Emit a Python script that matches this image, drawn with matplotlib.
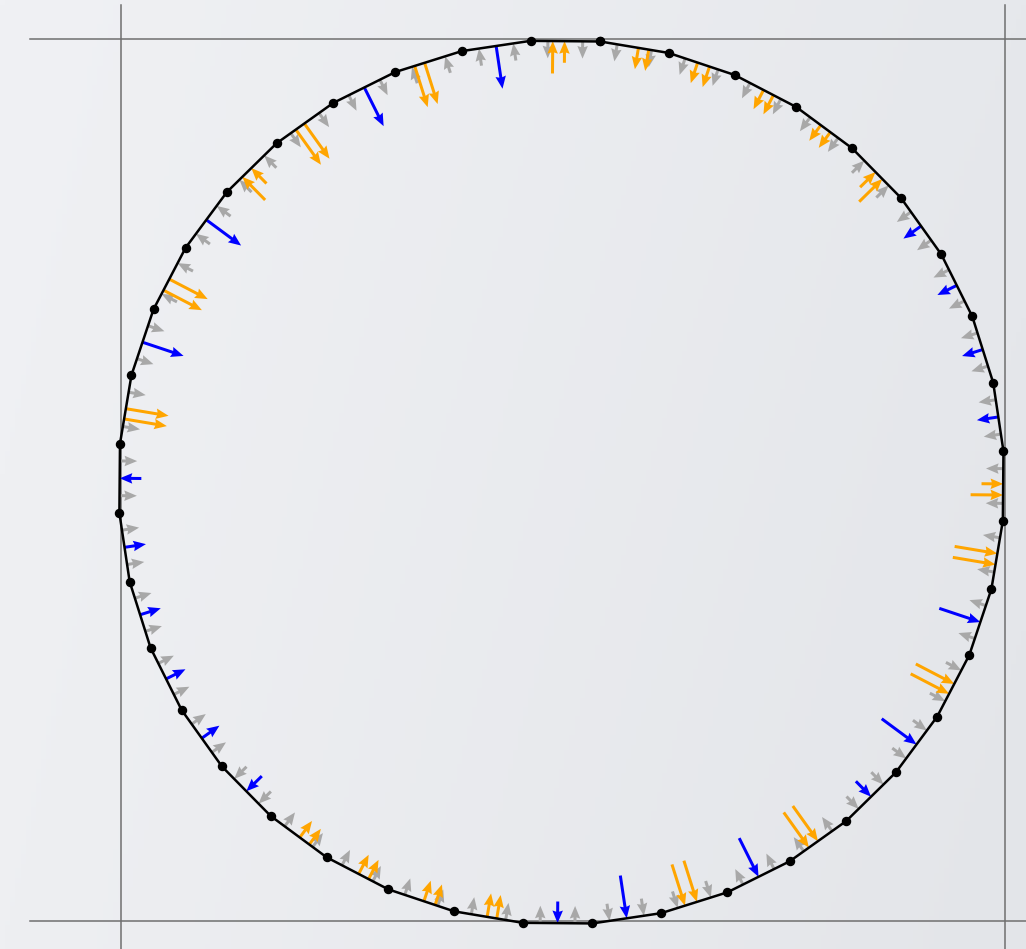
import numpy as np
import matplotlib.pyplot as plt

N = 40  # panels of the polygon, panel 0 is the flat top one, counted anticlockwise

# gray arrows: two per panel (at 1/4 and 3/4), +1 points inward, -1 outward
gray_sign = [1, -1, -1, 1, 1, -1, -1, -1, 1, 1,
             1, 1, 1, 1, 1, -1, 1, 1, 1, 1,
             1, -1, -1, 1, 1, -1, -1, -1, 1, 1,
             1, 1, 1, 1, 1, -1, 1, 1, 1, 1]
gray_val = 0.8

# blue arrows at panel midpoints
blue_panel = [1, 3, 6, 8, 10, 11, 12, 13, 14, 15, 20, 21, 23, 25, 26, 28, 31, 32, 33, 34]
blue_val = [2, 2, 2, 2, -1, 1, 1, 1, 1, -1, -1, -2, -2, -1, -2, -2, 1, 1, 1, 1]

# orange arrows, two per panel (position along panel, value)
orange_panel = [0, 2, 4, 5, 7, 9, 16, 17, 18, 19, 22, 24, 27, 29, 30, 35, 36, 37, 38, 39]
orange_u1 = [0.68, 0.71, 0.66, 0.69, 0.69, 0.49, 0.52, 0.52, 0.54, 0.48,
             0.36, 0.34, 0.53, 0.52, 0.53, 0.52, 0.56, 0.53, 0.56, 0.44]
orange_u2 = [0.51, 0.56, 0.51, 0.51, 0.51, 0.64, 0.69, 0.68, 0.71, 0.62,
             0.54, 0.50, 0.37, 0.36, 0.37, 0.38, 0.39, 0.37, 0.38, 0.29]
orange_v1 = [-1.5, 2, 2, -1.5, 2, 2, 0.95, 1, 1, 1.1,
             -2, -2, -2, -2, -1, -1, 0.9, 1, 1, 1]
orange_v2 = [-1, 2, 2, -1, 2, 2, 0.9, 1, 1, 1.1,
             -2, -2, -2, -2, -1.5, -1.5, 0.9, 1, 1, 1]

L = 0.049       # arrow length of one unit
rot = -0.5      # small tilt of the polygon (deg)
cx, cy = -0.003, -0.006

R = 1.0 / np.cos(np.pi / N)
phi = np.radians(90 - 180 / N + 360 / N * np.arange(N + 1) + rot)
vx = cx + R * np.cos(phi)
vy = cy + R * np.sin(phi)
alpha = np.radians(90 + 360 / N * np.arange(N) + rot)
nx, ny = -np.cos(alpha), -np.sin(alpha)


def arrows(panels, us, vals):
    panels = np.asarray(panels)
    us = np.asarray(us, float)
    vals = np.asarray(vals, float) * L
    px = vx[panels] + us * (vx[panels + 1] - vx[panels])
    py = vy[panels] + us * (vy[panels + 1] - vy[panels])
    back = np.maximum(-vals, 0)  # outward arrows end on the panel
    return (px + back * nx[panels], py + back * ny[panels],
            vals * nx[panels], vals * ny[panels])


fig = plt.figure(figsize=(10.26, 9.49), dpi=100)

# slide background
bg = fig.add_axes([0, 0, 1, 1])
xx, yy = np.meshgrid(np.linspace(0, 1, 200), np.linspace(0, 1, 200))
c_tl = np.array([240, 241, 244]) / 255
c_tr = np.array([230, 232, 236]) / 255
c_bl = np.array([238, 239, 242]) / 255
c_br = np.array([227, 229, 233]) / 255
img = ((1 - xx) * (1 - yy))[..., None] * c_tl + (xx * (1 - yy))[..., None] * c_tr \
    + ((1 - xx) * yy)[..., None] * c_bl + (xx * yy)[..., None] * c_br
bg.imshow(img, aspect='auto', extent=[0, 1, 0, 1], origin='upper')
bg.axis('off')

ax = fig.add_axes([0, 0, 1, 1])
ax.patch.set_alpha(0)
ax.set_xlim(-562.75 / 441.75, (1026 - 562.75) / 441.75)
ax.set_ylim((479.5 - 949) / 441, 479.5 / 441)
ax.axis('off')

lc = '#6f6f6f'
for y in (-1, 1):
    ax.plot([-1.205, 1.2], [y, y], color=lc, lw=1.1, zorder=1)
for x in (-1, 1):
    ax.plot([x, x], [1.076, -1.2], color=lc, lw=1.1, zorder=1)

qkw = dict(angles='xy', scale_units='xy', scale=1, units='dots', width=3.0,
           headwidth=3.5, headlength=4.2, headaxislength=3.8)

panels = np.arange(N)
gs = np.array(gray_sign, float) * gray_val
gx = arrows(np.r_[panels, panels], np.r_[np.full(N, 0.25), np.full(N, 0.75)], np.r_[gs, gs])
ax.quiver(*gx, color='#a8a8a8', zorder=2, **qkw)

ox = arrows(np.r_[orange_panel, orange_panel], np.r_[orange_u1, orange_u2],
            np.r_[orange_v1, orange_v2])
ax.quiver(*ox, color='orange', zorder=3, **qkw)

bx = arrows(blue_panel, np.full(len(blue_panel), 0.5), blue_val)
ax.quiver(*bx, color='blue', zorder=3, **qkw)

ax.plot(vx, vy, '-', color='black', lw=1.8, marker='o', ms=5.8, zorder=4)

fig.savefig('out.png', dpi=100)
